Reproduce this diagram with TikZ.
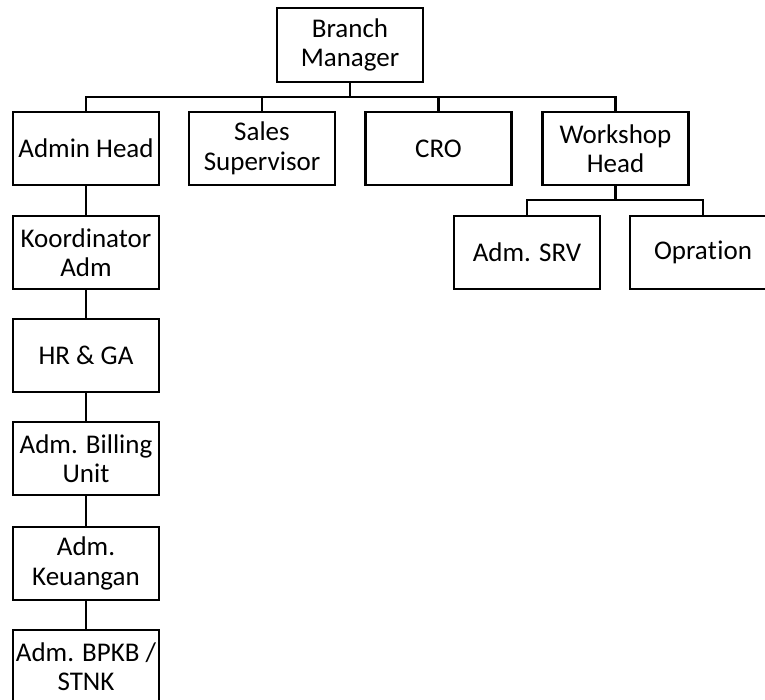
\documentclass[tikz,border=0pt]{standalone}
\usepackage{fontspec}
\setmainfont[Ligatures={NoCommon},RawFeature={-liga;-clig;-dlig}]{Carlito}
\begin{document}
\begin{tikzpicture}[x=1pt,y=1pt,
  box/.style={draw, line width=2.3pt, rectangle, minimum width=146pt, minimum height=73pt,
    inner sep=0pt, align=center, font=\fontsize{27}{29.5}\selectfont},
  link/.style={line width=2.3pt}]
\useasboundingbox (0,0) rectangle (765,-699);
\clip (0,0) rectangle (765,-699);
% top
\node[box, minimum height=74pt] (bm) at (350,-45) {Branch\\Manager};
% first level
\node[box] (ah) at (86,-148.5) {Admin Head};
\node[box] (ss) at (262,-148.5) {Sales\\Supervisor};
\node[box] (cro) at (438.5,-148.5) {CRO};
\node[box] (wh) at (615.5,-148.5) {Workshop\\Head};
% workshop children
\node[box] (srv) at (527,-252.5) {Adm. SRV};
\node[box] (op) at (703,-252.5) {Opra\hbox{t}\kern0.4pt\hbox{i}on};
% admin column
\node[box] (ka) at (86,-252.5) {Koordinator\\Adm};
\node[box] (hr) at (86,-355.5) {HR \& GA};
\node[box] (bu) at (86,-458.5) {Adm. Billing\\Unit};
\node[box] (ku) at (86,-563.5) {Adm.\\Keuangan};
\node[box] (bp) at (86,-666.5) {Adm. BPKB /\\STNK};
% buses
\coordinate (bus) at (0,-97);
\coordinate (wbus) at (0,-200);
\foreach \c in {ah,ss,cro,wh}
  \draw[link] (bm.south) -- (bm.south |- bus) -| (\c.north);
\foreach \c in {srv,op}
  \draw[link] (wh.south) -- (wh.south |- wbus) -| (\c.north);
\draw[link] (ah) -- (ka);
\draw[link] (ka) -- (hr);
\draw[link] (hr) -- (bu);
\draw[link] (bu) -- (ku);
\draw[link] (ku) -- (bp);
\end{tikzpicture}
\end{document}
